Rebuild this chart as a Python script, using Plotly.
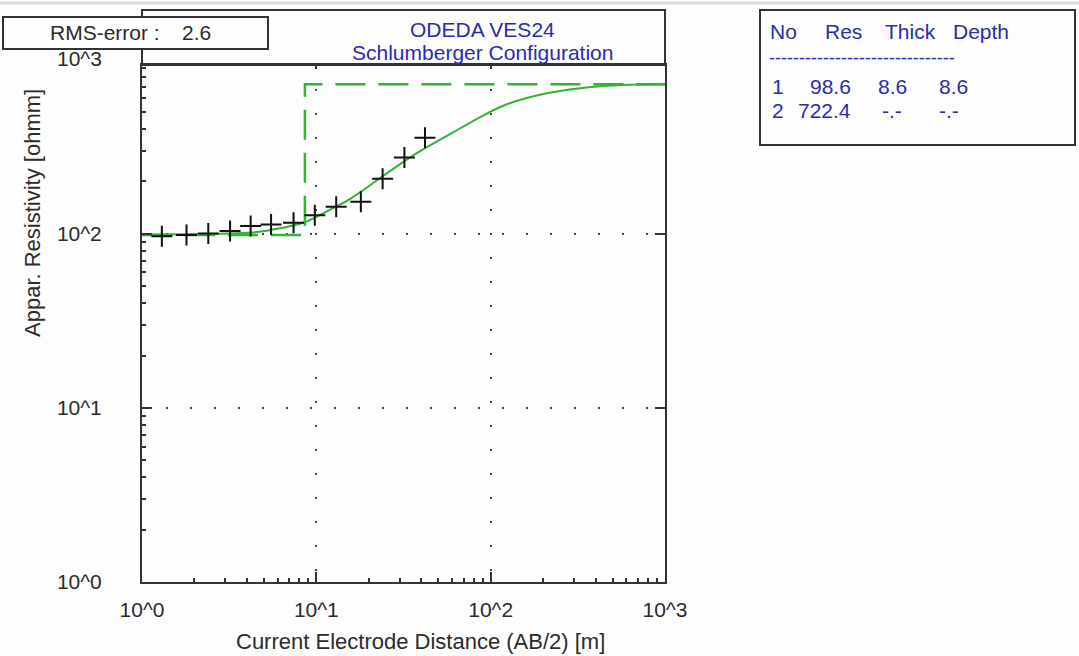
import plotly.graph_objects as go

# ---------------- data ----------------
# measured apparent resistivity (AB/2 [m], rho_a [ohmm])
ab2 = [1.3, 1.8, 2.4, 3.2, 4.2, 5.5, 7.4, 9.8, 13, 18, 24, 32, 42]
rho_obs = [97, 98.5, 100.5, 104, 111, 113, 116, 128, 143, 153, 207, 275, 356]

# calculated curve
curve_x = [1.0, 2.15, 4.57, 5.64, 7.35, 8.61, 9.96, 12.5, 15.6, 19.5, 24.1, 30.2,
           37.7, 46.7, 58.5, 72.9, 99.2, 120.9, 153.4, 192, 240, 326, 424, 631, 1000]
curve_y = [99.1, 99.7, 102.4, 105.9, 111.6, 116.9, 124.9, 140.7, 158.5, 184.5, 214.8, 251.7,
           291.1, 330.2, 374.3, 424.5, 502.7, 550.1, 594.8, 630.3, 657.6, 686, 704.4, 718.5, 722.4]

# layered model table
layer_no = [1, 2]
layer_res = [98.6, 722.4]
layer_thick = ["8.6", "-.-"]
layer_depth = ["8.6", "-.-"]
rms_error = 2.6

title_lines = ["ODEDA VES24", "Schlumberger Configuration"]
decade_vals = [1, 10, 100, 1000]
decade_text = ["10^0", "10^1", "10^2", "10^3"]
minor_vals = [m * 10 ** k for k in range(3) for m in range(2, 10)]

# ---------------- geometry helpers ----------------
FIG_W, FIG_H = 1079, 656
L, R, T, B = 142, 665, 65, 582
PW, PH = R - L, B - T


def px(x):
    return (x - L) / PW


def py(y):
    return (B - y) / PH


TXT = "#2b2b2b"
BLUE = "#2b2bb0"
GREEN = "#33b233"
FONT = "Liberation Sans, Arial, sans-serif"

fig = go.Figure()

# model (dashed step)
model_x = [1, float(layer_thick[0]), float(layer_thick[0]), 1000]
model_y = [layer_res[0], layer_res[0], layer_res[1], layer_res[1]]
fig.add_trace(go.Scatter(x=model_x, y=model_y, mode="lines",
                         line=dict(color=GREEN, width=2.5, dash="30px,13px"),
                         hoverinfo="skip", showlegend=False))
# calculated curve
fig.add_trace(go.Scatter(x=curve_x, y=curve_y, mode="lines",
                         line=dict(color=GREEN, width=2, shape="spline", smoothing=0.6),
                         showlegend=False))
# observed points
fig.add_trace(go.Scatter(x=ab2, y=rho_obs, mode="markers",
                         marker=dict(symbol="cross-thin", size=15,
                                     line=dict(color="#111", width=2)),
                         showlegend=False))
# dummy trace for top/right tick axes
fig.add_trace(go.Scatter(x=[10], y=[10], xaxis="x2", yaxis="y2", mode="markers",
                         marker=dict(opacity=0), hoverinfo="skip", showlegend=False))

axis_common = dict(type="log", showline=True, linecolor="#333", linewidth=2,
                   mirror=True, ticks="inside", ticklen=10, tickwidth=2,
                   tickcolor="#333", zeroline=False,
                   showgrid=True, gridcolor="#444", gridwidth=2, griddash="2px,22px",
                   tickfont=dict(family=FONT, size=21, color=TXT),
                   minor=dict(ticks="inside", ticklen=4, tickwidth=1.5,
                              tickcolor="#333", tickmode="array",
                              tickvals=minor_vals, showgrid=False))

fig.update_layout(
    width=FIG_W, height=FIG_H,
    margin=dict(l=L, r=FIG_W - R, t=T, b=FIG_H - B),
    paper_bgcolor="#fdfdfd", plot_bgcolor="#fdfdfd",
    xaxis=dict(range=[0, 3], tickmode="array", tickvals=decade_vals,
               ticktext=decade_text, ticklabelstandoff=8, **axis_common),
    yaxis=dict(range=[0, 2.97], tickmode="array", tickvals=decade_vals,
               ticktext=decade_text, ticklabelstandoff=34, **axis_common),
    xaxis2=dict(type="log", range=[0, 3], overlaying="x", side="top",
                tickmode="array", tickvals=decade_vals[1:3], ticks="inside",
                ticklen=4, tickwidth=2, tickcolor="#333", showticklabels=False,
                showgrid=False, zeroline=False, showline=False),
    yaxis2=dict(type="log", range=[0, 2.97], overlaying="y", side="right",
                tickmode="array", tickvals=decade_vals[1:3], ticks="inside",
                ticklen=10, tickwidth=2, tickcolor="#333", showticklabels=False,
                showgrid=False, zeroline=False, showline=False),
    showlegend=False,
)

shapes = []
# faint top border of the window
shapes.append(dict(type="line", xref="paper", yref="paper", x0=px(0), x1=px(FIG_W),
                   y0=py(3), y1=py(3), line=dict(color="#dcdcdc", width=3)))
# title box
shapes.append(dict(type="rect", xref="paper", yref="paper", x0=0, x1=1,
                   y0=1, y1=py(10), line=dict(color="#333", width=2)))
# RMS box
shapes.append(dict(type="rect", xref="paper", yref="paper", x0=px(3), x1=px(268),
                   y0=py(49), y1=py(17), fillcolor="#fdfdfd",
                   line=dict(color="#333", width=2)))
# table box
shapes.append(dict(type="rect", xref="paper", yref="paper", x0=px(760), x1=px(1075),
                   y0=py(145), y1=py(10), line=dict(color="#333", width=2)))
fig.update_layout(shapes=shapes)

ann = []


def text(s, x, y, color=TXT, size=21, xanchor="left", **kw):
    ann.append(dict(text=s, x=px(x), y=py(y), xref="paper", yref="paper",
                    showarrow=False, xanchor=xanchor, yanchor="middle",
                    font=dict(family=FONT, size=size, color=color), **kw))


# RMS error
text("RMS-error :", 48, 33)
text(f"{rms_error}", 180, 33)
# title
text(title_lines[0], 482, 30, color=BLUE, xanchor="center")
text(title_lines[1], 482, 52, color=BLUE, xanchor="center")
# 10^3 label on y axis (above clipped range)
text(decade_text[3], 104, 59, xanchor="right")
# axis titles
text("Current Electrode Distance (AB/2) [m]", 420, 641, size=22, xanchor="center")
text("Appar. Resistivity [ohmm]", 33, 213, size=22, xanchor="center", textangle=-90)

# table
text("No", 768, 31, color=BLUE)
text("Res", 823, 31, color=BLUE)
text("Thick", 883, 31, color=BLUE)
text("Depth", 951, 31, color=BLUE)
text("-" * 31, 767, 58, color=BLUE, size=18)
row_y = [86, 110]
for i in range(len(layer_no)):
    text(str(layer_no[i]), 770, row_y[i], color=BLUE)
    text(f"{layer_res[i]}", 853, row_y[i], color=BLUE, xanchor="right")
    text(layer_thick[i], 892, row_y[i], color=BLUE, xanchor="center")
    text(layer_depth[i], 937, row_y[i], color=BLUE)

fig.update_layout(annotations=ann)

fig.write_html("out.html",
               config={"displayModeBar": False},
               post_script="document.body.style.margin='0px';"
                           "document.body.style.overflow='hidden';")
